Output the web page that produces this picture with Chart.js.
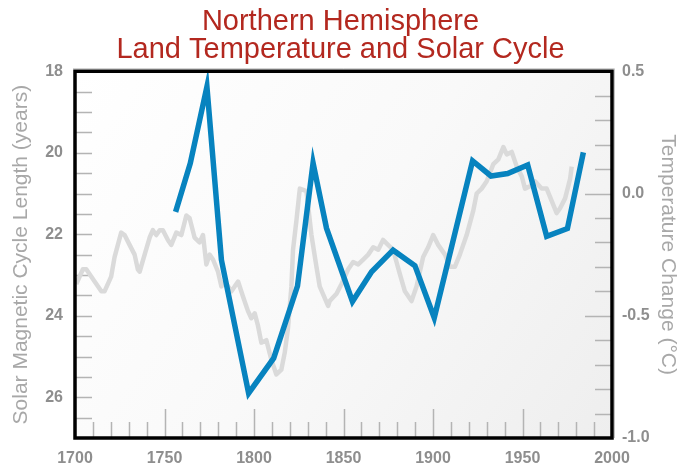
<!DOCTYPE html>
<html>
<head>
<meta charset="utf-8">
<script src="https://cdn.jsdelivr.net/npm/chart.js@4.4.1/dist/chart.umd.min.js"></script>
<style>
  html, body { margin: 0; padding: 0; background: #fff; }
  #wrap { width: 681px; height: 466px; }
</style>
</head>
<body>
<div id="wrap"><canvas id="chart" width="681" height="466"></canvas></div>
<script>
// solar magnetic cycle length (years), left axis, reversed
const solarYears = [1756.2, 1764.4, 1773.7, 1781.8, 1797.0, 1811.0, 1824.3, 1833.0, 1840.5, 1855.0, 1865.7,
                    1877.7, 1889.9, 1900.7, 1922.1, 1932.4, 1941.7, 1952.9, 1963.5, 1975.1, 1984.0];
const solarLength = [21.45, 20.26, 18.38, 22.63, 25.9, 25.04, 23.27, 20.25, 21.85, 23.65, 22.92,
                     22.39, 22.77, 24.05, 20.2, 20.57, 20.51, 20.3, 22.05, 21.86, 19.99];

// northern hemisphere land temperature change (°C), right axis
const tempYears = [1700.7, 1704.4, 1706.3, 1710, 1714.7, 1716.5, 1720.2, 1722.1, 1725.8, 1727.7,
                   1730.5, 1733.3, 1735.1, 1736.1, 1738.9, 1741.7, 1743.5, 1745.4, 1747.3, 1749.1,
                   1751.9, 1753.8, 1756.6, 1759.4, 1762.2, 1764, 1766.8, 1769.6, 1771.5, 1773.4,
                   1775.2, 1777.1, 1779.9, 1781.8, 1783.6, 1787.4, 1791.1, 1793.8, 1796.6, 1798.5,
                   1800.4, 1802.2, 1804.1, 1806.9, 1809.7, 1812.5, 1815.3, 1817.2, 1819, 1820.9,
                   1821.8, 1823.7, 1825.6, 1829.3, 1832.1, 1834.9, 1836.7, 1841.4, 1842.3, 1846.1,
                   1848.9, 1852.6, 1855.4, 1858.2, 1861, 1863.8, 1866.6, 1869.4, 1872.1, 1874.9,
                   1877.7, 1881.5, 1884.3, 1888, 1890.8, 1894.5, 1897.3, 1900.1, 1902.9, 1906.7,
                   1909.5, 1912.2, 1915, 1918.8, 1922.5, 1924.4, 1927.2, 1930, 1933.7, 1936.5,
                   1939.3, 1941.2, 1944, 1946.8, 1949.6, 1951.4, 1954.2, 1957, 1960.7, 1963.5,
                   1966.3, 1969.1, 1971, 1973.8, 1976.6, 1977.5];
const tempChange = [-0.37, -0.31, -0.31, -0.35, -0.40, -0.40, -0.34, -0.26, -0.16, -0.17,
                    -0.21, -0.25, -0.31, -0.32, -0.25, -0.18, -0.15, -0.17, -0.15, -0.15,
                    -0.19, -0.21, -0.16, -0.17, -0.09, -0.10, -0.18, -0.20, -0.17, -0.29,
                    -0.25, -0.27, -0.32, -0.38, -0.36, -0.40, -0.36, -0.42, -0.48, -0.51,
                    -0.49, -0.54, -0.61, -0.60, -0.68, -0.74, -0.72, -0.65, -0.55, -0.38,
                    -0.23, -0.11, 0.02, 0.01, -0.17, -0.30, -0.38, -0.46, -0.44, -0.41,
                    -0.37, -0.31, -0.28, -0.29, -0.27, -0.25, -0.22, -0.23, -0.19, -0.21,
                    -0.23, -0.33, -0.40, -0.44, -0.38, -0.26, -0.22, -0.17, -0.21, -0.25,
                    -0.30, -0.30, -0.25, -0.17, -0.07, 0.00, 0.02, 0.05, 0.12, 0.14,
                    0.19, 0.16, 0.17, 0.11, 0.07, 0.02, 0.03, 0.05, 0.02, 0.02,
                    -0.03, -0.08, -0.06, -0.02, 0.06, 0.11];

const FONT = "'Liberation Sans', Arial, Helvetica, sans-serif";
const TICK_COLOR = '#b4b4b4';
const LABEL_COLOR = '#8e8e8e';
const TITLE_GRAY = '#a8a8a8';

// gradient plot background, inward tick marks and the black frame
const plotDecor = {
    id: 'plotDecor',
    beforeDatasetsDraw(chart) {
        const { ctx, chartArea: a, scales } = chart;
        ctx.save();
        const g = ctx.createLinearGradient(a.left, a.top, a.right, a.bottom);
        g.addColorStop(0, '#ffffff');
        g.addColorStop(0.5, '#f9f9f9');
        g.addColorStop(1, '#eeeeee');
        ctx.fillStyle = g;
        ctx.fillRect(a.left, a.top, a.right - a.left, a.bottom - a.top);

        ctx.strokeStyle = TICK_COLOR;
        ctx.lineWidth = 1.5;
        ctx.beginPath();
        for (let v = 18.5; v < 27; v += 0.5) {
            const y = Math.round(scales.yL.getPixelForValue(v)) + 0.5;
            ctx.moveTo(a.left, y);
            ctx.lineTo(a.left + 17, y);
        }
        for (let i = -9; i <= 4; i++) {
            const y = Math.round(scales.yR.getPixelForValue(i / 10)) + 0.5;
            const len = i % 5 === 0 ? 27 : 17;
            ctx.moveTo(a.right - len, y);
            ctx.lineTo(a.right, y);
        }
        for (let yr = 1710; yr < 2000; yr += 10) {
            const x = Math.round(scales.x.getPixelForValue(yr)) + 0.5;
            const len = yr % 50 === 0 ? 29 : 16;
            ctx.moveTo(x, a.bottom);
            ctx.lineTo(x, a.bottom - len);
        }
        ctx.stroke();
        ctx.restore();
    },
    afterDatasetsDraw(chart) {
        const { ctx, chartArea: a } = chart;
        ctx.save();
        ctx.strokeStyle = '#c4c4c4';
        ctx.lineWidth = 1;
        ctx.beginPath();
        ctx.moveTo(a.left - 2, a.top - 2.5);
        ctx.lineTo(a.right + 2.5, a.top - 2.5);
        ctx.lineTo(a.right + 2.5, a.bottom);
        ctx.stroke();
        ctx.strokeStyle = '#000';
        ctx.lineWidth = 3.5;
        ctx.strokeRect(a.left, a.top, a.right - a.left, a.bottom - a.top);
        ctx.restore();
    }
};

new Chart(document.getElementById('chart'), {
    type: 'line',
    data: {
        datasets: [
            {
                label: 'Solar cycle length',
                data: solarYears.map((x, i) => ({ x: x, y: solarLength[i] })),
                yAxisID: 'yL',
                borderColor: '#0783bf',
                borderWidth: 5.5,
                borderJoinStyle: 'miter',
                borderCapStyle: 'butt',
                pointRadius: 0,
                tension: 0,
                fill: false
            },
            {
                label: 'Temperature change',
                data: tempYears.map((x, i) => ({ x: x, y: tempChange[i] })),
                yAxisID: 'yR',
                borderColor: '#dadada',
                borderWidth: 4.5,
                borderJoinStyle: 'round',
                pointRadius: 0,
                tension: 0,
                fill: false
            }
        ]
    },
    options: {
        responsive: false,
        devicePixelRatio: 1,
        animation: false,
        layout: { padding: 0 },
        plugins: {
            legend: { display: false },
            tooltip: { enabled: false },
            title: {
                display: true,
                text: ['Northern Hemisphere', 'Land Temperature and Solar Cycle'],
                color: '#b3281f',
                font: { family: FONT, size: 29, weight: 'normal', lineHeight: 0.97 },
                padding: { top: 8, bottom: 7 }
            }
        },
        scales: {
            x: {
                type: 'linear',
                min: 1700,
                max: 2000,
                grid: { display: false, drawTicks: false },
                border: { display: false },
                ticks: {
                    stepSize: 50,
                    color: LABEL_COLOR,
                    padding: 11,
                    font: { family: FONT, size: 16, weight: 'bold' },
                    callback: v => String(v)
                },
                afterFit(s) { s.height = 28; }
            },
            yL: {
                type: 'linear',
                position: 'left',
                reverse: true,
                min: 18,
                max: 27,
                grid: { display: false, drawTicks: false },
                border: { display: false },
                ticks: {
                    stepSize: 2,
                    includeBounds: false,
                    color: LABEL_COLOR,
                    padding: 12,
                    font: { family: FONT, size: 16, weight: 'bold' },
                    callback: v => String(v)
                },
                title: {
                    display: true,
                    text: 'Solar Magnetic Cycle Length (years)',
                    color: TITLE_GRAY,
                    font: { family: FONT, size: 21, weight: 'normal', lineHeight: 1.2 },
                    padding: { top: 9, bottom: 0 }
                },
                afterFit(s) { s.width = 75; }
            },
            yR: {
                type: 'linear',
                position: 'right',
                min: -1,
                max: 0.5,
                grid: { display: false, drawTicks: false },
                border: { display: false },
                ticks: {
                    stepSize: 0.5,
                    color: LABEL_COLOR,
                    padding: 10,
                    font: { family: FONT, size: 16, weight: 'bold' },
                    callback: v => v.toFixed(1)
                },
                title: {
                    display: true,
                    text: 'Temperature Change (°C)',
                    color: TITLE_GRAY,
                    font: { family: FONT, size: 21, weight: 'normal', lineHeight: 1.2 },
                    padding: { top: 1, bottom: 0 }
                },
                afterFit(s) { s.width = 69; }
            }
        }
    },
    plugins: [plotDecor]
});
</script>
</body>
</html>
